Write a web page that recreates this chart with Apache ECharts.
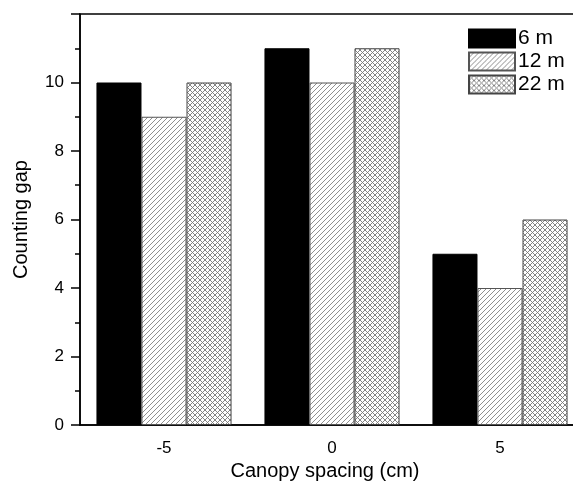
<!DOCTYPE html>
<html>
<head>
<meta charset="utf-8">
<script src="https://cdn.jsdelivr.net/npm/echarts@6/dist/echarts.min.js"></script>
<style>html,body{margin:0;padding:0;background:#fff;}#c{width:573px;height:484px;}</style>
</head>
<body>
<div id="c"></div>
<script>
var categories = ['-5', '0', '5'];
var seriesNames = ['6 m', '12 m', '22 m'];
var values6 = [10, 11, 5];
var values12 = [9, 10, 4];
var values22 = [10, 11, 6];
var yTicks = [0, 2, 4, 6, 8, 10];

function hatch() {
  var c = document.createElement('canvas');
  c.width = 5; c.height = 5;
  var g = c.getContext('2d');
  g.fillStyle = '#fff'; g.fillRect(0, 0, 5, 5);
  g.strokeStyle = '#8f8f8f'; g.lineWidth = 1;
  g.beginPath();
  g.moveTo(-1, 6); g.lineTo(6, -1);
  g.moveTo(-1, 1); g.lineTo(1, -1);
  g.moveTo(4, 6); g.lineTo(6, 4);
  g.stroke();
  return c;
}
function cross() {
  var c = document.createElement('canvas');
  c.width = 5; c.height = 5;
  var g = c.getContext('2d');
  g.fillStyle = '#fff'; g.fillRect(0, 0, 5, 5);
  g.strokeStyle = '#777'; g.lineWidth = 0.9;
  g.beginPath();
  g.moveTo(-1, 6); g.lineTo(6, -1);
  g.moveTo(-1, -1); g.lineTo(6, 6);
  g.stroke();
  return c;
}

var font = 'Liberation Sans, Arial, sans-serif';
var chart = echarts.init(document.getElementById('c'), null, {renderer: 'canvas'});
chart.setOption({
  animation: false,
  backgroundColor: '#fff',
  grid: {left: 80, width: 504, top: 14, height: 411, containLabel: false, outerBoundsMode: 'none',
    show: true, borderColor: '#000', borderWidth: 1.5, backgroundColor: 'transparent'},
  legend: {
    data: seriesNames,
    orient: 'vertical',
    left: 463, top: 23,
    itemWidth: 46, itemHeight: 18, itemGap: 2,
    textStyle: {fontFamily: font, fontSize: 21, color: '#000', padding: [0, 0, 0, -2]},
    icon: 'rect'
  },
  xAxis: [{
    type: 'category',
    data: categories,
    name: 'Canopy spacing (cm)',
    nameLocation: 'middle',
    nameGap: 32,
    nameTextStyle: {fontFamily: font, fontSize: 20, color: '#000', padding: [0, 14, 0, 0]},
    axisLine: {lineStyle: {color: '#000', width: 1.5}},
    axisTick: {alignWithLabel: true, length: 9, lineStyle: {color: '#000', width: 1.5}},
    axisLabel: {fontFamily: font, fontSize: 17, color: '#000', margin: 15},
    splitLine: {show: false}
  }, {
    type: 'category',
    data: categories,
    position: 'bottom',
    axisLine: {show: false},
    axisTick: {length: 5, lineStyle: {color: '#000', width: 1.5}},
    axisLabel: {show: false},
    splitLine: {show: false}
  }],
  yAxis: {
    type: 'value',
    min: 0, max: 12, interval: 2,
    name: 'Counting gap',
    nameLocation: 'middle',
    nameGap: 49,
    nameTextStyle: {fontFamily: font, fontSize: 20, color: '#000'},
    axisLine: {show: true, lineStyle: {color: '#000', width: 1.5}},
    axisTick: {show: true, length: 9, lineStyle: {color: '#000', width: 1.5}},
    minorTick: {show: true, splitNumber: 2, length: 5, lineStyle: {color: '#000', width: 1.5}},
    axisLabel: {fontFamily: font, fontSize: 17, color: '#000', margin: 16,
      formatter: function (v) { return yTicks.indexOf(v) >= 0 ? String(v) : ''; }},
    splitLine: {show: false}
  },
  series: [{
    name: seriesNames[0], type: 'bar', data: values6,
    barGap: '0%', barCategoryGap: '19.6%',
    itemStyle: {color: '#000', borderColor: '#000', borderWidth: 1}
  }, {
    name: seriesNames[1], type: 'bar', data: values12,
    itemStyle: {color: {image: hatch(), repeat: 'repeat'}, borderColor: '#555', borderWidth: 1}
  }, {
    name: seriesNames[2], type: 'bar', data: values22,
    itemStyle: {color: {image: cross(), repeat: 'repeat'}, borderColor: '#444', borderWidth: 1}
  }]
});
</script>
</body>
</html>
